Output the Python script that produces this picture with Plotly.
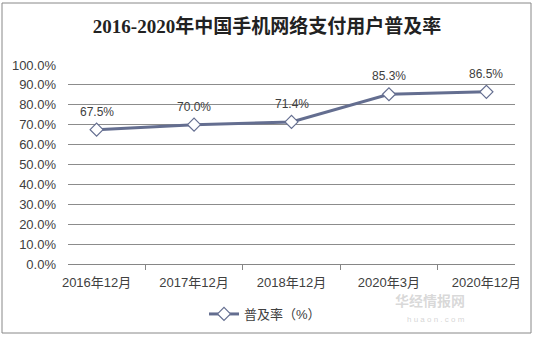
import plotly.graph_objects as go

categories = ["2016年12月", "2017年12月", "2018年12月", "2020年3月", "2020年12月"]
values = [0.675, 0.700, 0.714, 0.853, 0.865]
series_name = "普及率（%）"
title = "2016-2020年中国手机网络支付用户普及率"

W, H = 534, 337
ml, mr, mt, mb = 68, 19, 65, 73
pw, ph = W - ml - mr, H - mt - mb

def px_x(p):
    return (p - ml) / pw

def px_y(p):
    return (H - mb - p) / ph

line_color = "#646E90"
font_main = "Liberation Sans, Arial, Noto Sans CJK SC, sans-serif"

fig = go.Figure()
fig.add_trace(go.Scatter(
    x=categories, y=values, name=series_name,
    mode="lines+markers",
    line=dict(color=line_color, width=3),
    marker=dict(symbol="diamond", size=10, color="white", line=dict(color=line_color, width=1.2)),
    cliponaxis=False,
))
for c, v in zip(categories, values):
    fig.add_annotation(x=c, y=v, text=f"{v*100:.1f}%", showarrow=False, yshift=18,
                       yanchor="middle", font=dict(size=12, color="#404040", family=font_main))

# faint watermark
fig.add_annotation(xref="paper", yref="paper", x=px_x(466), y=px_y(311), text="<b>华经情报网</b>",
                   showarrow=False, borderpad=0, font=dict(size=14, color="rgba(170,170,170,0.45)",
                                              family="Noto Sans CJK SC, sans-serif"))
fig.add_annotation(xref="paper", yref="paper", x=px_x(466), y=px_y(325), text="h u a o n . c o m",
                   showarrow=False, borderpad=0, font=dict(size=8, color="rgba(170,170,170,0.5)", family=font_main))

fig.update_layout(
    width=W, height=H,
    margin=dict(l=ml, r=mr, t=mt, b=mb, autoexpand=False),
    paper_bgcolor="white", plot_bgcolor="white",
    title=dict(text="<b>" + title + "</b>", x=267 / W, xanchor="center", y=1 - 26 / H, yanchor="middle",
               font=dict(size=19, color="#222222", family="Liberation Serif, Noto Sans CJK SC, serif")),
    showlegend=True,
    legend=dict(orientation="h", x=px_x(265), xanchor="center", y=px_y(314), yanchor="middle",
                font=dict(size=13, color="#404040", family=font_main), bgcolor="rgba(0,0,0,0)"),
    font=dict(family=font_main, color="#404040", size=13),
)
fig.update_xaxes(
    type="category", tickson="boundaries", ticks="outside", ticklen=5, tickcolor="#868686",
    showline=True, linecolor="#868686", linewidth=1, showgrid=False, automargin=False,
    tickfont=dict(size=13, color="#404040"), ticklabelstandoff=6,
)
fig.update_yaxes(
    range=[0, 1.0], dtick=0.1, tickformat=".1%", showgrid=True, gridcolor="#8C8C8C", gridwidth=1,
    zeroline=False, showline=False, ticks="", tickfont=dict(size=13, color="#404040"),
    automargin=False, ticklabelstandoff=11,
)

fig.add_shape(type="rect", xref="paper", yref="paper",
              x0=px_x(2), x1=px_x(531), y0=px_y(333), y1=px_y(3),
              line=dict(color="#888888", width=1), fillcolor="rgba(0,0,0,0)", layer="below")

fig.write_html("out.html")
